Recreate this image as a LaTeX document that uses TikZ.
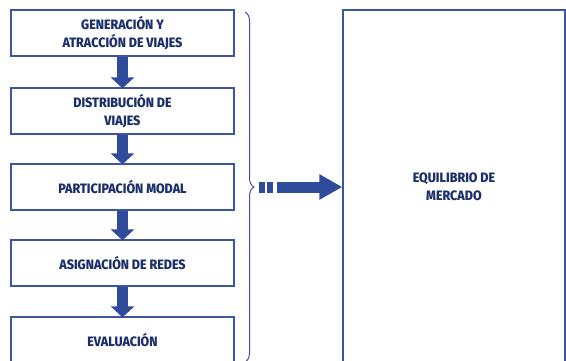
\documentclass[tikz,border=0pt]{standalone}
\usepackage{fontspec}
\setmainfont{Fira Sans}[FakeStretch=0.92,BoldFont={Fira Sans ExtraBold}]
\usepackage{tikz}
\usetikzlibrary{positioning,arrows.meta,calc,decorations.pathreplacing}
\definecolor{navytxt}{HTML}{1B2F6B}
\definecolor{navyline}{HTML}{3D56A3}
\definecolor{navyfill}{HTML}{2F4B9B}
\tikzset{
  stagebox/.style={draw=navyline,line width=1.3pt,minimum width=223pt,
    minimum height=46pt,inner sep=2pt,align=center,text=navytxt,
    font=\bfseries\fontsize{13.6}{17.5}\selectfont},
  marketbox/.style={stagebox,minimum width=222pt,minimum height=354pt},
  downarr/.style={-{Triangle[width=23pt,length=11pt]},line width=11pt,
    draw=navyfill,shorten >=-1pt},
  bigarr/.style={-{Triangle[width=24pt,length=23pt]},line width=11pt,
    draw=navyfill},
  sqblk/.style={fill=navyfill},
  bracestyle/.style={draw=navyline,line width=1pt,
    decorate,decoration={brace,amplitude=9pt}},
}
\begin{document}
\begin{tikzpicture}[x=1pt,y=-1pt]
  \useasboundingbox (0,0) rectangle (566,360);
  \node[stagebox] (gen) at (122.5,33) {GENERACIÓN Y\\ATRACCIÓN DE VIAJES};
  \node[stagebox] (dist) at (122.5,111) {DISTRIBUCIÓN DE\\VIAJES};
  \node[stagebox] (modal) at (122.5,187) {PARTICIPACIÓN MODAL};
  \node[stagebox] (asig) at (122.5,263) {ASIGNACIÓN DE REDES};
  \node[stagebox] (eval) at (122.5,340) {EVALUACIÓN};
  \node[marketbox] (merc) at (454,187) {EQUILIBRIO DE\\MERCADO};
  \draw[downarr] (gen) -- (dist);
  \draw[downarr] (dist) -- (modal);
  \draw[downarr] (modal) -- (asig);
  \draw[downarr] (asig) -- (eval);
  % brace round the stages
  \draw[bracestyle] (245,12) -- (245,362);
  \coordinate (tip) at (254,187);
  \fill[sqblk] ($(tip)+(5,-5.5)$) rectangle ++(5.5,11);
  \fill[sqblk] ($(tip)+(13,-5.5)$) rectangle ++(6,11);
  \draw[bigarr] ($(tip)+(23,0)$) -- (merc.west);
\end{tikzpicture}
\end{document}
